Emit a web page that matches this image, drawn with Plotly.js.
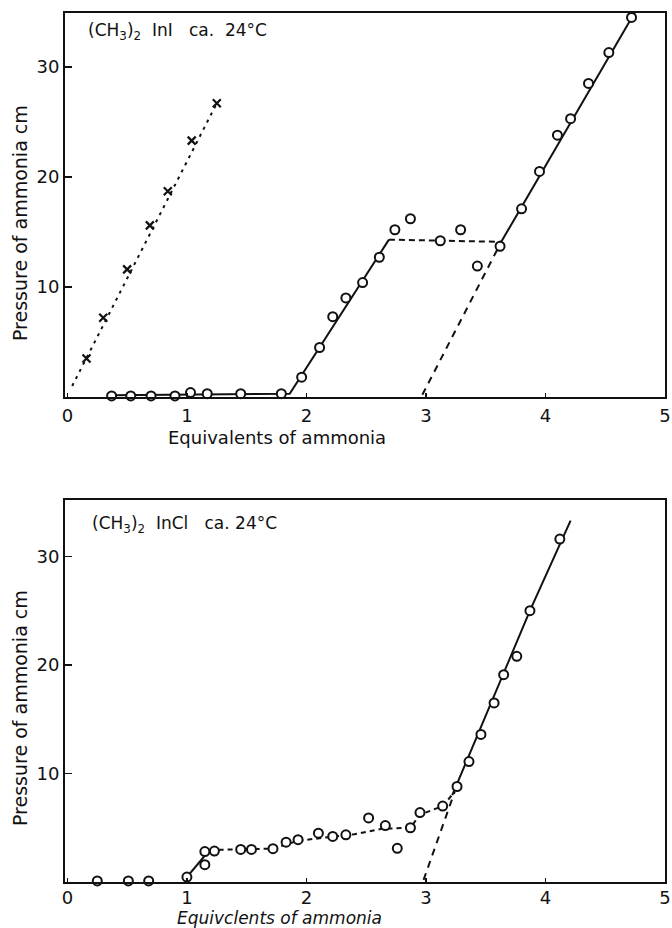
<!DOCTYPE html>
<html>
<head>
<meta charset="utf-8">
<script src="https://cdn.plot.ly/plotly-3.0.1.min.js"></script>
<style>html,body{margin:0;padding:0;background:#fff;}#chart{width:672px;height:928px;}</style>
</head>
<body>
<div id="chart"></div>
<script>
// ---- Top panel: (CH3)2InI ----
const topCrossX = [0.16, 0.30, 0.50, 0.69, 0.84, 1.04, 1.25];
const topCrossY = [3.5, 7.2, 11.6, 15.6, 18.7, 23.3, 26.7];
const topCrossLineX = [0.04, 1.25];
const topCrossLineY = [1.0, 26.7];

const topCircX = [0.37, 0.53, 0.70, 0.90, 1.03, 1.17, 1.45, 1.79, 1.96, 2.11, 2.22, 2.33, 2.47, 2.61, 2.74, 2.87, 3.12, 3.29, 3.43, 3.62, 3.80, 3.95, 4.10, 4.21, 4.36, 4.53, 4.72];
const topCircY = [0.1, 0.1, 0.1, 0.1, 0.4, 0.3, 0.3, 0.3, 1.8, 4.5, 7.3, 9.0, 10.4, 12.7, 15.2, 16.2, 14.2, 15.2, 11.9, 13.7, 17.1, 20.5, 23.8, 25.3, 28.5, 31.3, 34.5];

const topSolidAX = [0.37, 1.86, 2.69];
const topSolidAY = [0.15, 0.3, 14.3];
const topPlateauX = [2.69, 3.63];
const topPlateauY = [14.3, 14.1];
const topSolidBX = [3.63, 4.75];
const topSolidBY = [14.1, 35.0];
const topSteepX = [2.97, 3.63];
const topSteepY = [0.2, 14.1];

// ---- Bottom panel: (CH3)2InCl ----
const botCircX = [0.25, 0.51, 0.68, 1.00, 1.15, 1.15, 1.23, 1.45, 1.54, 1.72, 1.83, 1.93, 2.10, 2.22, 2.33, 2.52, 2.66, 2.76, 2.87, 2.95, 3.14, 3.26, 3.36, 3.46, 3.57, 3.65, 3.76, 3.87, 4.12];
const botCircY = [0.1, 0.1, 0.1, 0.45, 1.6, 2.8, 2.85, 3.0, 3.0, 3.07, 3.67, 3.9, 4.5, 4.2, 4.35, 5.9, 5.2, 3.1, 5.0, 6.4, 7.0, 8.8, 11.1, 13.6, 16.5, 19.1, 20.8, 25.0, 31.6];

const botSolidAX = [0.98, 1.19];
const botSolidAY = [0.2, 2.95];
const botPlateauX = [1.19, 1.72, 1.93, 2.22, 2.40, 2.63, 2.87, 2.95, 3.14, 3.24];
const botPlateauY = [2.95, 3.07, 3.8, 4.2, 4.4, 4.9, 5.0, 6.2, 7.0, 8.3];
const botSolidBX = [3.22, 3.87, 4.21];
const botSolidBY = [8.0, 25.0, 33.3];
const botSteepX = [2.98, 3.24];
const botSteepY = [0.2, 8.3];

const xTickVals = [0, 1, 2, 3, 4, 5];
const xTickText = ['0', '1', '2', '3', '4', '5'];
const yTickVals = [10, 20, 30];
const yTickText = ['10', '20', '30'];

const topLabel = '(CH<sub>3</sub>)<sub>2</sub>  InI   ca.  24°C';
const botLabel = '(CH<sub>3</sub>)<sub>2</sub>  InCl   ca. 24°C';
const xTitleTop = 'Equivalents of ammonia';
const xTitleBot = 'Equivclents of ammonia';
const yTitle = 'Pressure of ammonia cm';

const K = '#111';
const FONT = 'DejaVu Sans';

function line(x, y, dash, xa, ya) {
  return {x: x, y: y, mode: 'lines', xaxis: xa, yaxis: ya, showlegend: false, hoverinfo: 'skip',
          line: {color: K, width: 2, dash: dash}};
}
function circles(x, y, xa, ya) {
  return {x: x, y: y, mode: 'markers', xaxis: xa, yaxis: ya, showlegend: false, cliponaxis: false,
          marker: {symbol: 'circle', size: 9, color: '#fff', line: {color: K, width: 2}}};
}

const traces = [
  line(topCrossLineX, topCrossLineY, '3px,5px', 'x', 'y'),
  {x: topCrossX, y: topCrossY, mode: 'markers', xaxis: 'x', yaxis: 'y', showlegend: false,
   marker: {symbol: 'x-thin-open', size: 8, color: K, line: {color: K, width: 2.2}}},
  line(topSolidAX, topSolidAY, 'solid', 'x', 'y'),
  line(topPlateauX, topPlateauY, '6px,4px', 'x', 'y'),
  line(topSolidBX, topSolidBY, 'solid', 'x', 'y'),
  line(topSteepX, topSteepY, '7px,6px', 'x', 'y'),
  circles(topCircX, topCircY, 'x', 'y'),

  line(botSolidAX, botSolidAY, 'solid', 'x2', 'y2'),
  line(botPlateauX, botPlateauY, '5px,4px', 'x2', 'y2'),
  line(botSolidBX, botSolidBY, 'solid', 'x2', 'y2'),
  line(botSteepX, botSteepY, '7px,6px', 'x2', 'y2'),
  circles(botCircX, botCircY, 'x2', 'y2')
];

function xaxis(anchor, dom, standoff) {
  return {domain: dom, anchor: anchor, range: [-0.02, 5.0], tickvals: xTickVals, ticktext: xTickText,
          ticks: 'inside', ticklen: 4, tickwidth: 1.5, tickcolor: K, showgrid: false, zeroline: false,
          showline: true, mirror: true, linecolor: K, linewidth: 2, ticklabelstandoff: standoff,
          tickfont: {family: FONT, size: 18, color: K}};
}
function yaxis(anchor, dom, top) {
  return {domain: dom, anchor: anchor, range: [0, top], tickvals: yTickVals, ticktext: yTickText,
          ticks: 'inside', ticklen: 7, tickwidth: 1.5, tickcolor: K, showgrid: false, zeroline: false,
          showline: true, mirror: true, linecolor: K, linewidth: 2, ticklabelstandoff: 0,
          tickfont: {family: FONT, size: 18, color: K}};
}

const W = 672, H = 928;
const xDom = [65 / W, 665 / W];
const layout = {
  width: W, height: H,
  margin: {l: 0, r: 0, t: 0, b: 0},
  paper_bgcolor: '#fff', plot_bgcolor: '#fff',
  font: {family: FONT, color: K},
  xaxis: xaxis('y', xDom, 1),
  yaxis: yaxis('x', [1 - 397 / H, 1 - 13 / H], 34.9),
  xaxis2: xaxis('y2', xDom, -2),
  yaxis2: yaxis('x2', [1 - 882 / H, 1 - 500 / H], 35.2),
  annotations: [
    {text: topLabel, xref: 'paper', yref: 'paper', x: 86 / W, y: 1 - 32 / H, xanchor: 'left', yanchor: 'middle',
     showarrow: false, font: {family: FONT, size: 17, color: K}},
    {text: botLabel, xref: 'paper', yref: 'paper', x: 90 / W, y: 1 - 524 / H, xanchor: 'left', yanchor: 'middle',
     showarrow: false, font: {family: FONT, size: 17, color: K}},
    {text: xTitleTop, xref: 'paper', yref: 'paper', x: 277 / W, y: 1 - 437 / H, xanchor: 'center', yanchor: 'middle',
     showarrow: false, font: {family: FONT, size: 18, color: K}},
    {text: xTitleBot, xref: 'paper', yref: 'paper', x: 279 / W, y: 1 - 917.5 / H, xanchor: 'center', yanchor: 'middle',
     showarrow: false, font: {family: FONT, size: 17, color: K, style: 'italic'}},
    {text: yTitle, xref: 'paper', yref: 'paper', x: 20 / W, y: 1 - 223 / H, xanchor: 'center', yanchor: 'middle',
     textangle: -90, showarrow: false, font: {family: FONT, size: 19, color: K}},
    {text: yTitle, xref: 'paper', yref: 'paper', x: 20 / W, y: 1 - 708 / H, xanchor: 'center', yanchor: 'middle',
     textangle: -90, showarrow: false, font: {family: FONT, size: 19, color: K}}
  ]
};

Plotly.newPlot('chart', traces, layout, {displayModeBar: false, staticPlot: true});
</script>
</body>
</html>
